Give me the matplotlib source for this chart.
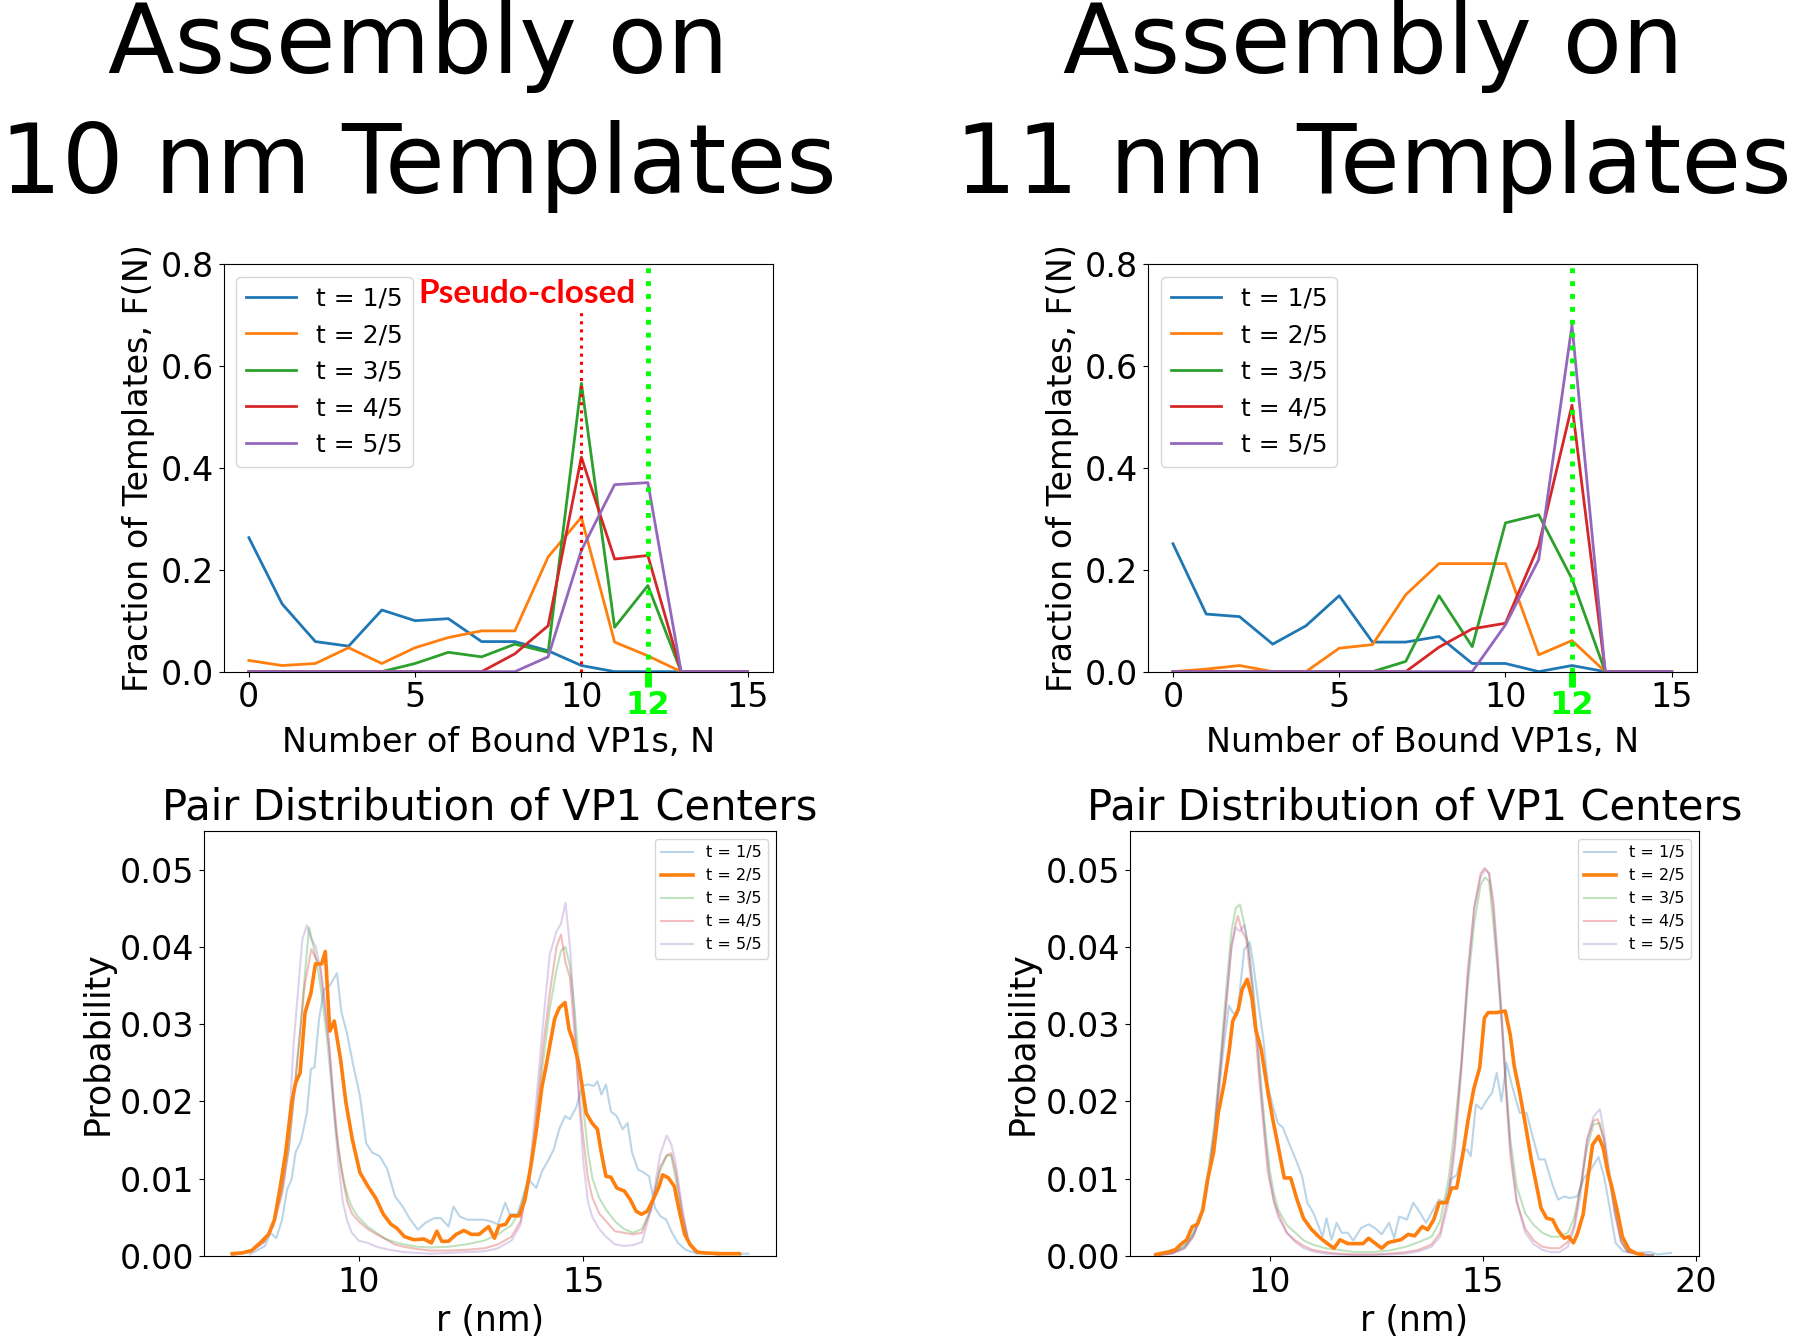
import matplotlib
matplotlib.use('Agg')
import matplotlib.pyplot as plt

# ---- fraction of templates vs number of bound VP1s ----
n_bound = list(range(16))
labels = ['t = 1/5', 't = 2/5', 't = 3/5', 't = 4/5', 't = 5/5']

frac_10nm = [
    [0.263, 0.133, 0.059, 0.050, 0.121, 0.100, 0.104, 0.059, 0.059, 0.041, 0.012, 0, 0, 0, 0, 0],
    [0.022, 0.012, 0.016, 0.047, 0.016, 0.047, 0.067, 0.080, 0.080, 0.225, 0.303, 0.058, 0.031, 0, 0, 0],
    [0, 0, 0, 0, 0, 0.016, 0.038, 0.029, 0.054, 0.038, 0.566, 0.087, 0.169, 0, 0, 0],
    [0, 0, 0, 0, 0, 0, 0, 0, 0.035, 0.090, 0.421, 0.221, 0.228, 0, 0, 0],
    [0, 0, 0, 0, 0, 0, 0, 0, 0, 0.029, 0.238, 0.367, 0.371, 0, 0, 0],
]
frac_11nm = [
    [0.251, 0.113, 0.108, 0.054, 0.090, 0.149, 0.058, 0.058, 0.069, 0.016, 0.016, 0, 0.012, 0, 0, 0],
    [0, 0.005, 0.012, 0, 0, 0.046, 0.053, 0.151, 0.212, 0.212, 0.212, 0.033, 0.061, 0, 0, 0],
    [0, 0, 0, 0, 0, 0, 0, 0.020, 0.149, 0.049, 0.292, 0.308, 0.182, 0, 0, 0],
    [0, 0, 0, 0, 0, 0, 0, 0, 0.048, 0.084, 0.095, 0.248, 0.523, 0, 0, 0],
    [0, 0, 0, 0, 0, 0, 0, 0, 0, 0, 0.092, 0.220, 0.680, 0, 0, 0],
]

# ---- pair distribution, 10 nm templates ----
r10_t1 = [7.58, 7.92, 8.04, 8.17, 8.30, 8.41, 8.51, 8.60, 8.72, 8.85, 8.94, 9.02, 9.12, 9.23, 9.36,
          9.52, 9.62, 9.74, 9.87, 10.03, 10.17, 10.30, 10.47, 10.64, 10.81, 10.98, 11.15, 11.32, 11.49,
          11.68, 11.83, 12.00, 12.11, 12.25, 12.42, 12.59, 12.76, 12.93, 13.10, 13.26, 13.36, 13.53,
          13.66, 13.78, 13.95, 14.08, 14.21, 14.34, 14.46, 14.59, 14.70, 14.85, 14.97, 15.10, 15.23,
          15.31, 15.40, 15.50, 15.61, 15.74, 15.87, 15.98, 16.08, 16.21, 16.34, 16.46, 16.59, 16.72,
          16.84, 16.97, 17.10, 17.27, 17.53, 17.96, 18.67]
p10_t1 = [0.0002, 0.0013, 0.0030, 0.0023, 0.0047, 0.0086, 0.0099, 0.0134, 0.0149, 0.0185, 0.0242,
          0.0244, 0.0306, 0.0345, 0.0350, 0.0366, 0.0315, 0.0289, 0.0250, 0.0207, 0.0146, 0.0134,
          0.0129, 0.0112, 0.0077, 0.0064, 0.0047, 0.0034, 0.0043, 0.0049, 0.0049, 0.0038, 0.0064,
          0.0051, 0.0047, 0.0047, 0.0047, 0.0045, 0.0041, 0.0069, 0.0054, 0.0054, 0.0077, 0.0099,
          0.0088, 0.0110, 0.0123, 0.0138, 0.0164, 0.0181, 0.0177, 0.0194, 0.0220, 0.0222, 0.0220,
          0.0226, 0.0209, 0.0222, 0.0187, 0.0181, 0.0164, 0.0172, 0.0134, 0.0112, 0.0108, 0.0103,
          0.0062, 0.0051, 0.0047, 0.0030, 0.0017, 0.0008, 0.0003, 0.0003, 0.0003]

r10_t2 = [7.19, 7.41, 7.62, 7.83, 8.00, 8.13, 8.26, 8.38, 8.51, 8.60, 8.70, 8.81, 8.94, 9.04, 9.18,
          9.26, 9.36, 9.46, 9.60, 9.72, 9.86, 10.03, 10.21, 10.38, 10.55, 10.72, 10.85, 11.02, 11.23,
          11.45, 11.62, 11.74, 11.85, 12.00, 12.17, 12.34, 12.51, 12.68, 12.89, 13.02, 13.12, 13.27,
          13.38, 13.57, 13.70, 13.83, 13.95, 14.08, 14.17, 14.25, 14.36, 14.46, 14.59, 14.68, 14.76,
          14.89, 14.97, 15.06, 15.19, 15.31, 15.40, 15.50, 15.61, 15.74, 15.91, 16.04, 16.17, 16.29,
          16.42, 16.55, 16.68, 16.76, 16.89, 17.02, 17.14, 17.25, 17.37, 17.53, 17.70, 18.04, 18.46]
p10_t2 = [0.0003, 0.0004, 0.0007, 0.0018, 0.0028, 0.0047, 0.0090, 0.0134, 0.0198, 0.0224, 0.0237,
          0.0315, 0.0340, 0.0378, 0.0378, 0.0394, 0.0291, 0.0304, 0.0254, 0.0198, 0.0151, 0.0108,
          0.0090, 0.0075, 0.0054, 0.0041, 0.0036, 0.0025, 0.0021, 0.0022, 0.0017, 0.0032, 0.0019,
          0.0019, 0.0028, 0.0033, 0.0028, 0.0028, 0.0038, 0.0023, 0.0039, 0.0041, 0.0052, 0.0052,
          0.0073, 0.0116, 0.0162, 0.0220, 0.0246, 0.0272, 0.0307, 0.0321, 0.0328, 0.0293, 0.0280,
          0.0250, 0.0220, 0.0185, 0.0172, 0.0164, 0.0133, 0.0103, 0.0102, 0.0088, 0.0084, 0.0073,
          0.0058, 0.0054, 0.0058, 0.0073, 0.0090, 0.0105, 0.0101, 0.0090, 0.0056, 0.0028, 0.0015,
          0.0005, 0.0004, 0.0003, 0.0003]

r10_t3 = [7.2, 7.6, 7.9, 8.1, 8.3, 8.45, 8.6, 8.7, 8.8, 8.9, 9.0, 9.1, 9.2, 9.3, 9.4, 9.5, 9.6, 9.7,
          9.8, 9.9, 10.0, 10.2, 10.4, 10.6, 10.8, 11.0, 11.3, 11.6, 12.0, 12.4, 12.8, 13.1, 13.4, 13.6,
          13.8, 13.95, 14.1, 14.25, 14.4, 14.5, 14.6, 14.7, 14.8, 14.9, 15.0, 15.1, 15.2, 15.35, 15.5,
          15.7, 15.9, 16.1, 16.3, 16.5, 16.7, 16.85, 16.95, 17.05, 17.2, 17.35, 17.5, 18.0, 18.5]
p10_t3 = [0.0002, 0.0006, 0.0020, 0.0040, 0.0085, 0.0140, 0.0230, 0.0290, 0.0360, 0.0425, 0.0400,
          0.0370, 0.0330, 0.0280, 0.0220, 0.0160, 0.0120, 0.0090, 0.0070, 0.0058, 0.0050, 0.0038,
          0.0030, 0.0022, 0.0018, 0.0015, 0.0012, 0.0011, 0.0012, 0.0015, 0.0020, 0.0028, 0.0040,
          0.0060, 0.0110, 0.0170, 0.0250, 0.0320, 0.0370, 0.0395, 0.0400, 0.0375, 0.0320, 0.0250,
          0.0190, 0.0135, 0.0100, 0.0075, 0.0060, 0.0045, 0.0035, 0.0030, 0.0035, 0.0060, 0.0110,
          0.0130, 0.0130, 0.0100, 0.0050, 0.0015, 0.0005, 0.0002, 0.0002]

r10_t4 = [7.2, 7.6, 7.9, 8.1, 8.3, 8.45, 8.6, 8.7, 8.8, 8.95, 9.05, 9.15, 9.25, 9.35, 9.45, 9.55, 9.65,
          9.75, 9.85, 10.0, 10.2, 10.4, 10.6, 10.8, 11.0, 11.3, 11.6, 12.0, 12.4, 12.8, 13.1, 13.4, 13.6,
          13.8, 13.95, 14.1, 14.25, 14.4, 14.5, 14.6, 14.7, 14.8, 14.9, 15.0, 15.1, 15.2, 15.35, 15.5,
          15.7, 15.9, 16.1, 16.3, 16.5, 16.7, 16.85, 16.95, 17.05, 17.2, 17.35, 17.5, 18.0]
p10_t4 = [0.0002, 0.0006, 0.0018, 0.0038, 0.0080, 0.0140, 0.0230, 0.0290, 0.0350, 0.0397, 0.0385,
          0.0375, 0.0330, 0.0270, 0.0200, 0.0140, 0.0100, 0.0070, 0.0055, 0.0045, 0.0035, 0.0028,
          0.0022, 0.0015, 0.0012, 0.0009, 0.0007, 0.0007, 0.0008, 0.0010, 0.0015, 0.0025, 0.0045,
          0.0100, 0.0180, 0.0270, 0.0340, 0.0400, 0.0416, 0.0380, 0.0360, 0.0290, 0.0210, 0.0150,
          0.0100, 0.0075, 0.0055, 0.0045, 0.0032, 0.0030, 0.0028, 0.0030, 0.0060, 0.0115, 0.0130,
          0.0133, 0.0110, 0.0055, 0.0015, 0.0005, 0.0002]

r10_t5 = [7.2, 7.6, 7.9, 8.1, 8.3, 8.45, 8.55, 8.65, 8.75, 8.85, 8.95, 9.05, 9.15, 9.25, 9.35, 9.45,
          9.55, 9.65, 9.75, 9.85, 10.0, 10.2, 10.4, 10.6, 10.8, 11.0, 11.3, 11.6, 12.0, 12.4, 12.8,
          13.1, 13.4, 13.6, 13.8, 13.95, 14.1, 14.25, 14.4, 14.5, 14.6, 14.7, 14.8, 14.9, 15.0, 15.1,
          15.2, 15.35, 15.5, 15.7, 15.9, 16.1, 16.3, 16.5, 16.7, 16.85, 16.95, 17.05, 17.2, 17.35,
          17.5, 18.0]
p10_t5 = [0.0001, 0.0005, 0.0018, 0.0040, 0.0090, 0.0160, 0.0270, 0.0340, 0.0410, 0.0428, 0.0410,
          0.0400, 0.0370, 0.0320, 0.0270, 0.0190, 0.0120, 0.0070, 0.0045, 0.0030, 0.0020, 0.0017,
          0.0012, 0.0009, 0.0007, 0.0005, 0.0004, 0.0003, 0.0004, 0.0005, 0.0006, 0.0010, 0.0020,
          0.0040, 0.0110, 0.0200, 0.0300, 0.0390, 0.0420, 0.0430, 0.0457, 0.0400, 0.0310, 0.0200,
          0.0120, 0.0070, 0.0050, 0.0035, 0.0025, 0.0015, 0.0013, 0.0014, 0.0018, 0.0060, 0.0130,
          0.0156, 0.0145, 0.0120, 0.0060, 0.0015, 0.0005, 0.0002]

# ---- pair distribution, 11 nm templates ----
r11_t1 = [7.33, 7.78, 8.05, 8.23, 8.36, 8.50, 8.63, 8.77, 8.90, 9.04, 9.13, 9.24, 9.31, 9.40, 9.53,
          9.62, 9.74, 9.85, 9.96, 10.07, 10.19, 10.31, 10.48, 10.64, 10.76, 10.88, 11.02, 11.15, 11.24,
          11.33, 11.45, 11.57, 11.69, 11.83, 11.96, 12.14, 12.32, 12.47, 12.63, 12.80, 12.92, 13.04,
          13.22, 13.37, 13.53, 13.67, 13.80, 13.97, 14.12, 14.25, 14.39, 14.52, 14.63, 14.72, 14.84,
          14.97, 15.11, 15.22, 15.33, 15.44, 15.56, 15.69, 15.87, 16.03, 16.19, 16.32, 16.46, 16.64,
          16.77, 16.91, 17.04, 17.22, 17.38, 17.54, 17.72, 17.85, 17.99, 18.12, 18.30, 18.57, 18.93,
          19.11, 19.42]
p11_t1 = [0.0000, 0.0006, 0.0016, 0.0030, 0.0047, 0.0077, 0.0125, 0.0190, 0.0263, 0.0324, 0.0315,
          0.0311, 0.0350, 0.0397, 0.0406, 0.0375, 0.0324, 0.0280, 0.0220, 0.0194, 0.0172, 0.0166,
          0.0142, 0.0121, 0.0103, 0.0069, 0.0056, 0.0038, 0.0025, 0.0049, 0.0021, 0.0043, 0.0030,
          0.0030, 0.0020, 0.0036, 0.0041, 0.0036, 0.0028, 0.0043, 0.0023, 0.0051, 0.0047, 0.0069,
          0.0056, 0.0043, 0.0056, 0.0073, 0.0069, 0.0099, 0.0105, 0.0134, 0.0138, 0.0129, 0.0196,
          0.0190, 0.0203, 0.0211, 0.0237, 0.0200, 0.0250, 0.0220, 0.0185, 0.0185, 0.0151, 0.0125,
          0.0125, 0.0092, 0.0073, 0.0077, 0.0075, 0.0077, 0.0101, 0.0112, 0.0128, 0.0103, 0.0060,
          0.0017, 0.0006, 0.0004, 0.0005, 0.0002, 0.0004]

r11_t2 = [7.33, 7.60, 7.78, 7.91, 8.05, 8.18, 8.30, 8.43, 8.54, 8.68, 8.79, 8.93, 9.04, 9.13, 9.26,
          9.35, 9.47, 9.58, 9.67, 9.80, 9.96, 10.07, 10.21, 10.34, 10.49, 10.64, 10.79, 10.97, 11.15,
          11.33, 11.51, 11.65, 11.83, 12.01, 12.19, 12.32, 12.46, 12.63, 12.77, 12.90, 13.08, 13.25,
          13.40, 13.58, 13.71, 13.85, 13.98, 14.15, 14.27, 14.39, 14.52, 14.66, 14.79, 14.93, 15.04,
          15.13, 15.33, 15.53, 15.65, 15.74, 15.87, 16.01, 16.14, 16.25, 16.37, 16.50, 16.64, 16.77,
          16.91, 17.02, 17.13, 17.22, 17.36, 17.47, 17.58, 17.72, 17.83, 17.94, 18.03, 18.17, 18.28,
          18.44, 18.62, 18.75]
p11_t2 = [0.0002, 0.0005, 0.0008, 0.0015, 0.0021, 0.0038, 0.0041, 0.0060, 0.0099, 0.0134, 0.0185,
          0.0224, 0.0263, 0.0304, 0.0319, 0.0345, 0.0358, 0.0334, 0.0293, 0.0267, 0.0211, 0.0177,
          0.0138, 0.0101, 0.0101, 0.0073, 0.0049, 0.0035, 0.0025, 0.0017, 0.0010, 0.0021, 0.0016,
          0.0016, 0.0016, 0.0023, 0.0017, 0.0010, 0.0017, 0.0019, 0.0021, 0.0028, 0.0026, 0.0038,
          0.0034, 0.0047, 0.0069, 0.0069, 0.0088, 0.0088, 0.0127, 0.0177, 0.0216, 0.0244, 0.0308,
          0.0315, 0.0315, 0.0317, 0.0285, 0.0246, 0.0211, 0.0168, 0.0125, 0.0095, 0.0062, 0.0049,
          0.0047, 0.0033, 0.0023, 0.0025, 0.0017, 0.0028, 0.0054, 0.0101, 0.0144, 0.0155, 0.0140,
          0.0108, 0.0090, 0.0056, 0.0025, 0.0008, 0.0003, 0.0002]

r11_t3 = [7.3, 7.7, 8.0, 8.2, 8.4, 8.55, 8.7, 8.85, 9.0, 9.1, 9.2, 9.3, 9.4, 9.5, 9.6, 9.7, 9.8, 9.9,
          10.0, 10.1, 10.2, 10.4, 10.6, 10.8, 11.0, 11.3, 11.6, 12.0, 12.4, 12.8, 13.2, 13.5, 13.8, 14.0,
          14.2, 14.35, 14.5, 14.65, 14.8, 14.95, 15.05, 15.15, 15.25, 15.35, 15.45, 15.55, 15.65, 15.8,
          16.0, 16.2, 16.4, 16.6, 16.8, 17.0, 17.15, 17.3, 17.45, 17.6, 17.75, 17.85, 17.95, 18.1,
          18.25, 18.4, 18.7, 19.0]
p11_t3 = [0.0001, 0.0004, 0.0012, 0.0030, 0.0060, 0.0110, 0.0170, 0.0260, 0.0360, 0.0420, 0.0450,
          0.0455, 0.0430, 0.0400, 0.0350, 0.0290, 0.0220, 0.0160, 0.0110, 0.0080, 0.0060, 0.0040,
          0.0030, 0.0020, 0.0015, 0.0010, 0.0008, 0.0005, 0.0005, 0.0007, 0.0012, 0.0018, 0.0025,
          0.0045, 0.0100, 0.0170, 0.0250, 0.0350, 0.0430, 0.0480, 0.0490, 0.0485, 0.0430, 0.0370,
          0.0300, 0.0220, 0.0150, 0.0090, 0.0055, 0.0040, 0.0030, 0.0025, 0.0025, 0.0030, 0.0050,
          0.0090, 0.0140, 0.0170, 0.0172, 0.0150, 0.0110, 0.0060, 0.0020, 0.0006, 0.0002, 0.0001]

r11_t4 = [7.3, 7.7, 8.0, 8.2, 8.4, 8.55, 8.7, 8.85, 9.0, 9.1, 9.2, 9.25, 9.35, 9.45, 9.55, 9.65, 9.75,
          9.85, 9.95, 10.1, 10.2, 10.4, 10.6, 10.8, 11.0, 11.3, 11.6, 12.0, 12.4, 12.8, 13.2, 13.5, 13.8,
          14.0, 14.2, 14.35, 14.5, 14.65, 14.8, 14.95, 15.05, 15.15, 15.25, 15.35, 15.45, 15.55, 15.65,
          15.8, 16.0, 16.2, 16.4, 16.6, 16.8, 17.0, 17.15, 17.3, 17.45, 17.6, 17.7, 17.85, 17.95, 18.1,
          18.25, 18.4, 18.7, 19.0]
p11_t4 = [0.0001, 0.0003, 0.0010, 0.0025, 0.0055, 0.0100, 0.0160, 0.0250, 0.0340, 0.0400, 0.0430,
          0.0440, 0.0420, 0.0410, 0.0360, 0.0300, 0.0230, 0.0170, 0.0110, 0.0070, 0.0055, 0.0030,
          0.0020, 0.0013, 0.0008, 0.0005, 0.0003, 0.0002, 0.0002, 0.0003, 0.0005, 0.0008, 0.0015,
          0.0030, 0.0080, 0.0150, 0.0250, 0.0370, 0.0450, 0.0495, 0.0502, 0.0495, 0.0450, 0.0380,
          0.0300, 0.0210, 0.0130, 0.0070, 0.0035, 0.0020, 0.0012, 0.0010, 0.0010, 0.0018, 0.0040,
          0.0090, 0.0150, 0.0175, 0.0177, 0.0150, 0.0110, 0.0055, 0.0018, 0.0005, 0.0002, 0.0001]

r11_t5 = r11_t3
p11_t5 = [0.0001, 0.0003, 0.0010, 0.0025, 0.0055, 0.0100, 0.0160, 0.0250, 0.0340, 0.0400, 0.0425,
          0.0420, 0.0428, 0.0400, 0.0350, 0.0280, 0.0210, 0.0150, 0.0100, 0.0070, 0.0050, 0.0030,
          0.0018, 0.0010, 0.0006, 0.0003, 0.0002, 0.0001, 0.0001, 0.0002, 0.0003, 0.0006, 0.0012,
          0.0025, 0.0070, 0.0140, 0.0240, 0.0360, 0.0450, 0.0490, 0.0500, 0.0495, 0.0460, 0.0390,
          0.0310, 0.0220, 0.0140, 0.0070, 0.0030, 0.0015, 0.0008, 0.0005, 0.0005, 0.0012, 0.0035,
          0.0080, 0.0150, 0.0180, 0.0190, 0.0160, 0.0120, 0.0060, 0.0020, 0.0006, 0.0002, 0.0001]

colors = ['#1f77b4', '#ff7f0e', '#2ca02c', '#d62728', '#9467bd']


def plot_fraction(ax, fractions, pseudo_closed):
    for frac, lbl, c in zip(fractions, labels, colors):
        ax.plot(n_bound, frac, color=c, lw=2.0, label=lbl)
    ax.axvline(12, color='lime', ls=':', lw=3.5)
    if pseudo_closed:
        ax.plot([10, 10], [0, 0.71], color='red', ls=':', lw=2.2)
        ax.text(8.35, 0.742, 'Pseudo-closed', color='red', fontsize=24, fontweight='bold',
                family=['Lato', 'DejaVu Sans'], ha='center', va='center')
    ax.set_xlim(-0.75, 15.75)
    ax.set_ylim(0, 0.8)
    ax.set_xticks([0, 5, 10, 15])
    ax.set_yticks([0, 0.2, 0.4, 0.6, 0.8])
    ax.set_xticks([12], minor=True)
    ax.set_xticklabels(['12'], minor=True)
    ax.tick_params(labelsize=24)
    ax.tick_params(axis='x', which='minor', color='lime', labelcolor='lime', length=11, width=5,
                   pad=2, labelsize=23)
    for t in ax.get_xticklabels(minor=True):
        t.set_fontweight('bold')
    ax.set_xlabel('Number of Bound VP1s, N', fontsize=24)
    ax.set_ylabel('Fraction of Templates, F(N)', fontsize=24)
    ax.legend(loc='upper left', fontsize=18)


def plot_pairs(ax, series, xmax_ticks):
    for i, ((r, p), lbl, c) in enumerate(zip(series, labels, colors)):
        if i == 1:
            ax.plot(r, p, color=c, lw=2.6, label=lbl, zorder=5)
        else:
            ax.plot(r, p, color=c, lw=1.5, alpha=0.3, label=lbl)
    ax.set_ylim(0, 0.055)
    ax.set_yticks([0, 0.01, 0.02, 0.03, 0.04, 0.05])
    ax.set_xticks(xmax_ticks)
    ax.tick_params(labelsize=24)
    ax.set_xlabel('r (nm)', fontsize=25)
    ax.set_ylabel('Probability', fontsize=25)
    ax.set_title('Pair Distribution of VP1 Centers', fontsize=30, pad=8)
    ax.legend(loc='upper right', fontsize=11.5)


fig = plt.figure(figsize=(18, 13.39), dpi=100)

ax_tl = fig.add_axes([0.1244, 0.4984, 0.3048, 0.3044])
ax_tr = fig.add_axes([0.6378, 0.4984, 0.3048, 0.3044])
ax_bl = fig.add_axes([0.1135, 0.0620, 0.3176, 0.3174])
ax_br = fig.add_axes([0.6276, 0.0620, 0.3163, 0.3174])

plot_fraction(ax_tl, frac_10nm, True)
plot_fraction(ax_tr, frac_11nm, False)

plot_pairs(ax_bl, [(r10_t1, p10_t1), (r10_t2, p10_t2), (r10_t3, p10_t3),
                   (r10_t4, p10_t4), (r10_t5, p10_t5)], [10, 15])
ax_bl.set_xlim(6.57, 19.28)
plot_pairs(ax_br, [(r11_t1, p11_t1), (r11_t2, p11_t2), (r11_t3, p11_t3),
                   (r11_t4, p11_t4), (r11_t5, p11_t5)], [10, 15, 20])
ax_br.set_xlim(6.71, 20.08)

# big column headers
fig.text(0.2322, 1 - 73 / 1339, 'Assembly on', fontsize=70, ha='center', va='baseline')
fig.text(0.2322, 1 - 193 / 1339, '10 nm Templates', fontsize=70, ha='center', va='baseline')
fig.text(0.7628, 1 - 73 / 1339, 'Assembly on', fontsize=70, ha='center', va='baseline')
fig.text(0.7628, 1 - 193 / 1339, '11 nm Templates', fontsize=70, ha='center', va='baseline')

fig.savefig('out.png', dpi=100)
plt.close(fig)
